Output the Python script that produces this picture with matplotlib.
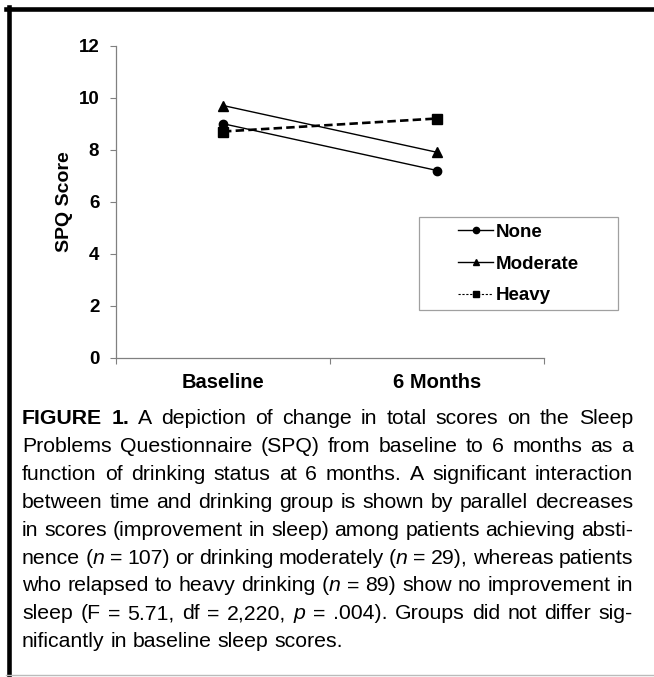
import re
import matplotlib.pyplot as plt
from matplotlib import font_manager
from matplotlib.lines import Line2D
from matplotlib.patches import Rectangle

plt.rcParams['font.family'] = ['Liberation Sans', 'DejaVu Sans']

# data
times = ["Baseline", "6 Months"]
none_scores = [9.0, 7.2]
moderate_scores = [9.7, 7.9]
heavy_scores = [8.7, 9.2]
group_names = ["None", "Moderate", "Heavy"]
y_ticks = [0, 2, 4, 6, 8, 10, 12]

# caption text, one entry per printed line (#bold#, *italic*)
caption_lines = [
    "#FIGURE# #1.# A depiction of change in total scores on the Sleep",
    "Problems Questionnaire (SPQ) from baseline to 6 months as a",
    "function of drinking status at 6 months. A significant interaction",
    "between time and drinking group is shown by parallel decreases",
    "in scores (improvement in sleep) among patients achieving absti-",
    "nence (*n* = 107) or drinking moderately (*n* = 29), whereas patients",
    "who relapsed to heavy drinking (*n* = 89) show no improvement in",
    "sleep (F = 5.71, df = 2,220, *p* = .004). Groups did not differ sig-",
    "nificantly in baseline sleep scores.",
]

W, H = 654, 677
fig = plt.figure(figsize=(W / 100, H / 100), dpi=100)

ax = fig.add_axes([116 / W, 1 - 357.7 / H, 428 / W, 312 / H])
x = list(range(len(times)))
ax.plot(x, none_scores, color='black', lw=1.0, marker='o', ms=6)
ax.plot(x, moderate_scores, color='black', lw=1.0, marker='^', ms=7)
ax.plot(x, heavy_scores, color='black', lw=1.9, ls=(0, (3.2, 1.6)), marker='s', ms=6.5)

ax.set_xlim(-0.5, len(times) - 0.5)
ax.set_ylim(0, 12)
ax.set_yticks(y_ticks)
ax.set_yticklabels([str(v) for v in y_ticks], fontweight='bold', fontsize=13.5)
ax.set_xticks([i - 0.5 for i in range(len(times) + 1)], labels=[''] * (len(times) + 1))
ax.set_xticks(x, minor=True)
ax.set_xticklabels(times, minor=True, fontweight='bold', fontsize=14.5)
ax.tick_params(axis='x', which='minor', length=0, pad=11)
ax.tick_params(axis='both', which='major', length=4, width=0.8, color='#808080')
ax.tick_params(axis='y', pad=8)
ax.set_ylabel("SPQ Score", fontweight='bold', fontsize=14, labelpad=4)
for side in ['top', 'right']:
    ax.spines[side].set_visible(False)
for side in ['left', 'bottom']:
    ax.spines[side].set_color('#808080')
    ax.spines[side].set_linewidth(0.9)

# legend
handles = [
    Line2D([], [], color='black', lw=1.0, marker='o', ms=4.5),
    Line2D([], [], color='black', lw=1.0, marker='^', ms=5),
    Line2D([], [], color='black', lw=0.8, ls=(0, (2, 1.5)), marker='s', ms=4.5),
]
fig.legend(handles, group_names, loc='center', bbox_to_anchor=(518.5 / W, 1 - 264 / H),
           frameon=False, prop={'weight': 'bold', 'size': 13.5},
           handlelength=1.9, handletextpad=0.15, labelspacing=0.78)
fig.add_artist(Rectangle((419 / W, 1 - 310 / H), 199 / W, 93 / H, transform=fig.transFigure,
                         fill=False, ec='#a0a0a0', lw=0.9))

# outer frame of the figure panel
fig.add_artist(Line2D([6 / W, 1], [1 - 9 / H] * 2, transform=fig.transFigure, color='black', lw=3.3))
fig.add_artist(Line2D([8.5 / W] * 2, [1 - 7 / H, 1 - 675 / H], transform=fig.transFigure, color='black', lw=3.3))
fig.add_artist(Line2D([6 / W, 1], [1 - 674.5 / H] * 2, transform=fig.transFigure, color='#bbbbbb', lw=1))

# justified caption, condensed face if there is one
names = {f.name for f in font_manager.fontManager.ttflist}
if 'Liberation Sans Narrow' in names:
    cap_family, cap_size = ['Liberation Sans Narrow', 'Liberation Sans'], 16
else:
    cap_family, cap_size = ['Liberation Sans', 'DejaVu Sans'], 15.3

fig.canvas.draw()
renderer = fig.canvas.get_renderer()
left_px, right_px = 22, 633
first_base, line_step = 424, 27.9


def style_of(seg):
    if seg.startswith('#'):
        return seg.strip('#'), dict(fontweight='bold')
    if seg.startswith('*'):
        return seg.strip('*'), dict(fontstyle='italic')
    return seg, {}


def measure(txt, kw):
    t = fig.text(0, 0, txt, fontsize=cap_size, family=cap_family, **kw)
    w = t.get_window_extent(renderer).width
    t.remove()
    return w


space_w = measure("a a", {}) - 2 * measure("a", {})

for i, line in enumerate(caption_lines):
    words = []
    for word in line.split(' '):
        segs = [style_of(s) for s in re.split(r'(#[^#]+#|\*[^*]+\*)', word) if s]
        widths = [measure(s, kw) for s, kw in segs]
        words.append((segs, widths))
    total = sum(sum(w) for _, w in words)
    gaps = len(words) - 1
    if i < len(caption_lines) - 1 and gaps > 0:
        gap = (right_px - left_px - total) / gaps
    else:
        gap = space_w
    xpos = left_px
    ypos = 1 - (first_base + i * line_step) / H
    for segs, widths in words:
        for (s, kw), w in zip(segs, widths):
            fig.text(xpos / W, ypos, s, fontsize=cap_size, family=cap_family,
                     va='baseline', ha='left', **kw)
            xpos += w
        xpos += gap

fig.savefig('out.png', dpi=100)
